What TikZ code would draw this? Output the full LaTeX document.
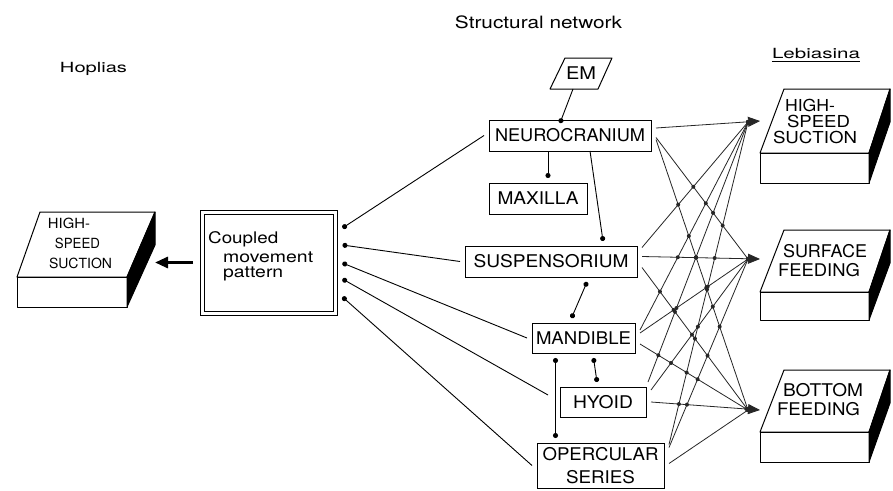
\documentclass[tikz,border=0pt]{standalone}
\usepackage{fontspec}
\setmainfont{TeX Gyre Heros}
\usepackage{graphicx}
\usetikzlibrary{arrows.meta,calc,intersections}
\newcommand\fx[2]{\resizebox{#1pt}{\height}{#2}}
\begin{document}
\begin{tikzpicture}[x=1pt,y=-1pt,
  box/.style={draw, line width=1pt, inner sep=0pt, outer sep=5pt, font=\fontsize{17.5}{17.5}\selectfont},
  lab/.style={inner sep=0pt, font=\fontsize{17.5}{17.5}\selectfont},
  tlab/.style={inner sep=0pt, font=\fontsize{16.5}{16.5}\selectfont},
  slab/.style={inner sep=0pt, font=\fontsize{14}{14}\selectfont},
  clab/.style={inner sep=0pt, anchor=base west, font=\fontsize{16}{16}\selectfont},
  conn/.style={line width=0.9pt},
  dotend/.style={conn, -{Circle[length=5pt]}},
  dotboth/.style={conn, {Circle[length=5pt]}-{Circle[length=5pt]}},
  dotstart/.style={conn, {Circle[length=5pt]}-},
  lat/.style={line width=0.8pt, black!85},
  lattip/.style={lat, -{Triangle[length=12pt,width=10pt]}},
  face/.style={draw, line width=1pt, fill=white, line join=round},
  sideface/.style={draw, line width=1pt, fill=black, line join=round},
]
\fill[white] (0,0) rectangle (893,490);
\useasboundingbox (0,0) rectangle (893,490);

% titles
\node[anchor=base, inner sep=0pt, font=\fontsize{17}{17}\selectfont] (ttl) at (538.5,28) {\fx{167}{Structural network}};
\node[anchor=base, inner sep=0pt, font=\fontsize{14}{14}\selectfont] (hop) at (93.5,72) {\fx{67}{Hoplias}};
\node[anchor=base, inner sep=0pt, font=\fontsize{14}{14}\selectfont] (leb) at (816,58) {\fx{88}{Lebiasina}};
\draw[line width=0.8pt] ([yshift=-3pt]leb.base west) -- ([yshift=-3pt]leb.base east);

% left 3D box
\filldraw[face] (17,277) -- (127,277) -- (155,212) -- (40,212) -- cycle;
\filldraw[face] (17,277) rectangle (127,307);
\filldraw[sideface] (127,277) -- (155,212) -- (155,245) -- (127,307) -- cycle;
\node[slab] (l1a) at (69,223) {\fx{42}{HIGH-}};
\node[slab] (l1b) at (77.5,243) {\fx{45}{SPEED}};
\node[slab] (l1c) at (80.5,263) {\fx{63}{SUCTION}};

% right 3D boxes
\foreach \yt/\yf/\yb in {89/153/183, 230/292/320, 370/432/462}{
  \filldraw[face] (760,\yf) -- (869,\yf) -- (890,\yt) -- (784,\yt) -- cycle;
  \filldraw[face] (760,\yf) rectangle (869,\yb);
  \filldraw[sideface] (869,\yf) -- (890,\yt) -- (890,\yt+33) -- (869,\yb) -- cycle;
}
\node[tlab] (r1a) at (810,105.5) {\fx{50}{HIGH-}};
\node[tlab] (r1b) at (818.5,121) {\fx{63}{SPEED}};
\node[tlab] (r1c) at (815,137) {\fx{84}{SUCTION}};
\node[lab] (r2a) at (825,251.5) {\fx{84}{SURFACE}};
\node[lab] (r2b) at (819,270.5) {\fx{82}{FEEDING}};
\node[lab] (r3a) at (823,390) {\fx{80}{BOTTOM}};
\node[lab] (r3b) at (818.5,409.5) {\fx{83}{FEEDING}};

% coupled movement pattern
\node[draw, double, double distance=3pt, line width=1pt, minimum width=133pt, minimum height=101pt, inner sep=0pt, outer sep=0pt] (coupled) at (268.5,262.5) {};
\node[clab] (c1) at (208,243) {\fx{70}{Coupled}};
\node[clab] (c2) at (223,262) {\fx{90}{movement}};
\node[clab] (c3) at (223,277) {\fx{60}{pattern}};
\coordinate (lside) at (155,262.5);
\draw[line width=3pt, -{Triangle[length=13pt,width=11pt]}] ([xshift=-9pt]coupled.west) -- (lside);

% structural network
\node[box, minimum width=162pt, minimum height=31pt] (neuro) at (570,135.5) {\fx{150}{NEUROCRANIUM}};
\node[box, minimum width=98pt, minimum height=31pt] (maxilla) at (538,198.5) {\fx{81}{MAXILLA}};
\node[box, minimum width=172pt, minimum height=31pt] (susp) at (551,261.5) {\fx{155}{SUSPENSORIUM}};
\node[box, minimum width=103pt, minimum height=30pt] (mand) at (583.5,338) {\fx{95}{MANDIBLE}};
\node[box, minimum width=86pt, minimum height=30pt] (hyoid) at (603,402) {\fx{60}{HYOID}};
\node[box, minimum width=127pt, minimum height=45pt, align=center] (operc) at (600.5,465.5) {\fx{116}{OPERCULAR}\\[5pt]\fx{69}{SERIES}};
\node[lab] (em) at (581,73.5) {\fx{30}{EM}};
\draw[line width=1pt, line join=round] ($(em)+(-31,15.5)$) -- ($(em)+(-16,-15.5)$) -- ($(em)+(31,-15.5)$) -- ($(em)+(17,15.5)$) -- cycle;

\draw[dotend] ($(em)+(-8,15.5)$) -- ([xshift=-10pt,yshift=-8pt]neuro.north);
\draw[dotend] ([xshift=-22pt,yshift=5pt]neuro.south) -- ([xshift=10pt]maxilla.north);
\draw[dotend] ([xshift=20pt,yshift=5pt]neuro.south) -- ([xshift=52pt]susp.north);
\draw[dotboth] ([xshift=36pt]susp.south) -- ([xshift=-12pt]mand.north);
\draw[dotboth] ([xshift=10pt]mand.south) -- ([xshift=-6pt]hyoid.north);
\draw[dotboth] ([xshift=-28pt]mand.south) -- ([xshift=-45pt]operc.north);

% from coupled pattern to structures
\draw[dotstart] ([xshift=7.5pt,yshift=34.5pt]coupled.east) -- (neuro.west);
\draw[dotstart] ([xshift=7.5pt,yshift=17.5pt]coupled.east) -- (susp.west);
\draw[dotstart] ([xshift=7.5pt,yshift=-0.5pt]coupled.east) -- (mand.west);
\draw[dotstart] ([xshift=7.5pt,yshift=-16.5pt]coupled.east) -- ([xshift=-7pt,yshift=7pt]hyoid.west);
\draw[dotstart] ([xshift=7.5pt,yshift=-34.5pt]coupled.east) -- (operc.west);

% lattice to feeding modes
\coordinate (T1) at (748,122);
\coordinate (T2) at (748,259);
\coordinate (T3) at (748,410);
\coordinate (P1) at (760,121);
\coordinate (P2) at (760,259);
\coordinate (P3) at (760,410);

\draw[lattip, name path global=l1-a] ([yshift=7.5pt]neuro.east) -- (P1);
\draw[lat, name path global=l2-a] ([yshift=-2pt]neuro.east) -- (T2);
\draw[lat, name path global=l3-a] ([yshift=-4pt]neuro.east) -- (T3);
\draw[lat, name path global=l4-a] ([yshift=14pt]susp.east) -- (T1);
\draw[lattip, name path global=l5-a] ([yshift=5pt]susp.east) -- (P2);
\draw[lat, name path global=l6-a] ([yshift=-6pt]susp.east) -- (T3);
\draw[lat, name path global=l7-a] ([yshift=8pt]mand.east) -- (T1);
\draw[lat, name path global=l8-a] ([yshift=5pt]mand.east) -- (T2);
\draw[lat, name path global=l9-a] ([yshift=-6pt]mand.east) -- (T3);
\draw[lat, name path global=l10-a] ([xshift=-3pt]hyoid.north east) -- (T1);
\draw[lat, name path global=l11-a] ([yshift=12pt]hyoid.east) -- (T2);
\draw[lattip, name path global=l12-a] (hyoid.east) -- (P3);
\draw[lat, name path global=l13-a] ([yshift=21pt]operc.east) -- (T1);
\draw[lat, name path global=l14-a] ([yshift=18pt]operc.east) -- (T2);
\draw[lat, name path global=l15-a] ([yshift=2pt]operc.east) -- (T3);

\foreach \i in {1,...,14}{
  \foreach \j in {2,...,15}{
    \ifnum\j>\i\relax
      \path[name intersections={of=l\i-a and l\j-a, name=X, total=\tot}] \pgfextra{\global\let\nint\tot};
      \ifnum\nint>0\relax
        \fill[black!85] (X-1) circle (2pt);
      \fi
    \fi
  }
}
\end{tikzpicture}
\end{document}
